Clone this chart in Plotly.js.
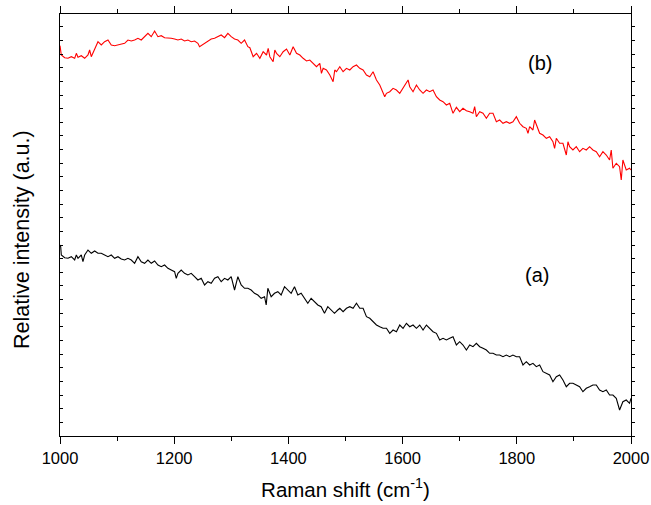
<!DOCTYPE html>
<html>
<head>
<meta charset="utf-8">
<script src="https://cdn.plot.ly/plotly-3.0.1.min.js"></script>
<style>html,body{margin:0;padding:0;background:#fff;}#chart{width:651px;height:505px;}</style>
</head>
<body>
<div id="chart"></div>
<script>
// Raman shift (cm^-1) and relative intensity (a.u.)
const shiftB = [1000,1002.3,1008.2,1014,1019.8,1025.7,1028.6,1031.5,1037.3,1043.2,1049,1051.9,1054.8,1060.7,1066.5,1072.3,1078.2,1084,1089.8,1095.7,1101.5,1107.3,1113.2,1119,1124.8,1130.7,1136.5,1142.3,1148.2,1154,1159.8,1165.7,1171.5,1177.3,1183.2,1189,1194.8,1200.7,1206.5,1212.3,1218.2,1224,1229.8,1235.7,1241.5,1244.4,1247.3,1253.2,1259,1264.8,1270.7,1276.5,1282.3,1288.2,1294,1299.8,1305.7,1311.5,1317.3,1323.2,1329,
1332.5,1338.3,1344.2,1350,1355.8,1361.7,1364.6,1367.5,1373.3,1376.2,1379.2,1385,1390.8,1396.7,1402.5,1408.3,1414.2,1420,1425.8,1431.7,1437.5,1443.3,1449.2,1455,1457.9,1460.8,1466.7,1472.5,1478.3,1481.2,1484.2,1490,1495.8,1501.7,1507.5,1513.3,1519.2,1525,1530.8,1536.7,1542.5,1548.3,1554.2,1560,1565.8,1568.7,1571.7,1577.5,1583.3,1589.2,1595,1600.8,1606.7,1609.6,1612.5,1618.3,1624.2,1630,1635.8,1641.7,1647.5,1653.3,1659.2,1665,1670.8,1676.7,1682.5,
1688.3,1694.2,1700,1705.8,1711.7,1717.5,1723.3,1726.2,1729.2,1735,1740.8,1746.7,1752.5,1758.3,1764.2,1770,1775.8,1781.7,1787.5,1793.3,1799.2,1805,1810.8,1816.7,1819.6,1822.5,1828.3,1831.2,1834.2,1840,1845.8,1851.7,1857.5,1863.3,1866.2,1869.2,1875,1880.8,1886.7,1889.6,1892.5,1898.3,1904.2,1910,1915.8,1921.7,1927.5,1933.3,1939.2,1945,1950.8,1956.7,1962.5,1965.4,1968.3,1974.2,1980,1982.9,1985.8,1991.7,1997.5,2000];
const intensityB = [390.3,381,378.3,377.7,379.3,377.7,382.7,378.7,380.3,377.7,381,386,379.3,387.7,394.3,391,394.3,396,391,390.3,391,391.7,392.7,396,395,396,397.7,396,399.3,402.7,399.3,405,399.3,400.3,398.3,398.3,397.7,397,396,397,395,396,394.3,395,392.7,389.3,390.3,392.7,394.3,397,397.7,399.3,401,398.3,402.7,399.3,397,396,392.7,396,389.3,
388.3,379.3,382.7,377.7,384.3,381,387.7,379.3,374.3,386,382.7,379.3,384.3,387,381,389.3,382.7,381,377.7,375,376,372.7,369.3,372.7,362.7,367.7,366,361,354.3,366,364.3,369.3,364.3,367.7,366,369.3,371,367.7,366,361,359.3,364.3,356,351,344.3,339.3,342.7,344.3,347.7,346,342.7,347.7,352.7,356,349.3,344.3,351,346,342.7,346,344.3,346,339.3,336,334.3,331,332.7,
322.7,328.7,324.3,327.7,325.3,324.3,322.7,329.3,319.3,324.3,322.7,317.7,322.7,322.7,314.3,316,312.7,314.3,312.7,314.3,319.3,312.7,309.3,307.7,302.7,309.3,306,316,311,302.7,301,297.7,299.3,294.3,287.7,297.7,292.7,292.7,281,294.3,289.3,286,289.3,284.3,287.7,286,289.3,286,284.3,279.3,284.3,281,276,286,267.7,272.7,269.3,256,276,266,267.7,266];

const shiftA = [1000,1001.2,1002.3,1008.2,1014,1019.8,1025.7,1028.6,1031.5,1037.3,1040.2,1043.2,1049,1054.8,1060.7,1066.5,1072.3,1078.2,1084,1089.8,1095.7,1101.5,1107.3,1113.2,1119,1124.8,1130.7,1136.5,1142.3,1148.2,1154,1159.8,1165.7,1171.5,1177.3,1183.2,1189,1194.8,1200.7,1203.6,1206.5,1212.3,1218.2,1224,1229.8,1235.7,1241.5,1247.3,1253.2,1259,1264.8,1270.7,1276.5,1282.3,1288.2,1294,1299.8,1305.7,1311.5,1317.3,1323.2,1329,1334.8,1340.7,1346.5,1352.3,1358.2,1361.1,1364,1369.8,1375.7,1381.5,1387.3,1393.2,1399,1404.8,1410.7,1416.5,1422.3,1428.2,1434,1439.8,1445.7,1451.5,1457.3,1463.2,1469,1474.8,1480.7,1486.5,
1490,1495.8,1501.7,1507.5,1513.3,1519.2,1525,1530.8,1536.7,1542.5,1548.3,1554.2,1560,1565.8,1571.7,1577.5,1583.3,1589.2,1595,1600.8,1606.7,1612.5,1618.3,1624.2,1630,1635.8,1641.7,1647.5,1653.3,1659.2,1665,1670.8,1676.7,1682.5,1688.3,1694.2,1700,1705.8,1711.7,1717.5,1723.3,1729.2,1735,1740.8,1746.7,1752.5,1758.3,1764.2,1770,1775.8,1781.7,1787.5,1793.3,1799.2,1805,1810.8,1816.7,1822.5,1828.3,1834.2,1840,1845.8,1851.7,1857.5,1863.3,1869.2,1875,1880.8,1886.7,1892.5,1898.3,1904.2,1910,1915.8,1921.7,1927.5,1933.3,1939.2,1945,1950.8,1956.7,1962.5,1968.3,1974.2,1980,1985.8,1991.7,1997.5,2000];
const intensityA = [191,189.3,181,178.3,177.7,179.3,176,181,177.7,181,174.3,181,186,182.7,185,182.7,182.7,181,179.3,181,177.7,179.3,177,176,177.7,176,172.7,179.3,174.3,172.7,176,172.7,175,171,169.3,171,167.7,166,164.3,157.7,162.7,166,162.7,161,162.7,159.3,156,157.7,151,154.3,152.7,157.7,159.3,154.3,157.7,156,159.3,146,159.3,151,147.7,147.7,146,142.7,141,137.7,139.3,131,147.7,139.3,142.7,144.3,141,149.3,146,142.7,149.3,141,142.7,137.7,132.7,137.7,134.3,131,129.3,122.7,129.3,126,122.7,126,
127.7,124.3,127.7,129.3,127.7,132.7,127.7,127.7,119.3,117.7,114.3,111,109.3,107.7,107.7,102.7,106,104.3,111,107.7,112.7,109.3,111,107.7,111,106,111,107.7,104.3,102.7,96,97.7,96,97.7,99.3,91,94.3,91,86,91,89.3,92.7,89.3,87.7,86,82.7,82.7,81,81,79.3,81,79.3,81,79.3,79.3,71,74.3,71,72.7,69.3,71,64.3,62.7,61,54.3,59.3,61,56,49.3,52.7,52.7,51,49.3,44.3,47.7,49.3,51,51,46,44.3,46,41,41,37.7,26,34.3,36,32.7,37.7];

const xTicks = [1000,1200,1400,1600,1800,2000];
const labelText = ['(b)','(a)'];
const labelShift = [1840,1835];
const labelIntensity = [373,161];
const yTitle = 'Relative intensity (a.u.)';

const font = 'Arial, "Liberation Sans", sans-serif';

const traces = [
  {x: shiftB, y: intensityB, type: 'scatter', mode: 'lines', line: {color: '#ff0000', width: 1.1}, hoverinfo: 'skip'},
  {x: shiftA, y: intensityA, type: 'scatter', mode: 'lines', line: {color: '#000000', width: 1.1}, hoverinfo: 'skip'},
  {x: [], y: [], yaxis: 'y2', type: 'scatter', mode: 'lines', showlegend: false}
];

const annotations = labelText.map((t, i) => ({
  x: labelShift[i], y: labelIntensity[i], xref: 'x', yref: 'y',
  text: t, showarrow: false, font: {family: font, size: 20, color: '#000'}
}));
annotations.push({
  text: yTitle, xref: 'paper', yref: 'paper', x: -0.0665, y: 0.4645,
  xanchor: 'center', yanchor: 'middle', textangle: -90, showarrow: false,
  font: {family: font, size: 21.5, color: '#000'}
});

const layout = {
  width: 651, height: 505,
  margin: {l: 60, r: 20, t: 14, b: 69},
  paper_bgcolor: '#fff', plot_bgcolor: '#fff',
  showlegend: false,
  font: {family: font, color: '#000', size: 16},
  xaxis: {
    range: [1000, 2000],
    tickvals: xTicks,
    ticktext: xTicks.map(String),
    ticks: 'outside', ticklen: 7, tickwidth: 1, tickcolor: '#000',
    minor: {dtick: 100, tick0: 1000, ticks: 'outside', ticklen: 4, tickcolor: '#000', showgrid: false},
    showline: true, linecolor: '#000', linewidth: 1.3, mirror: 'ticks',
    showgrid: false, zeroline: false,
    tickfont: {family: font, size: 16.5, color: '#000'},
    title: {text: 'Raman shift (cm<sup>-1</sup>)', font: {family: font, size: 20.5, color: '#000'}, standoff: 16}
  },
  yaxis: {
    range: [0, 422],
    dtick: 13.64, tick0: 0,
    ticks: 'inside', ticklen: 3, tickcolor: '#000',
    showticklabels: false,
    showline: true, linecolor: '#000', linewidth: 1.3,
    showgrid: false, zeroline: false
  },
  yaxis2: {
    overlaying: 'y', side: 'right', matches: 'y',
    range: [0, 422], dtick: 13.64, tick0: 0,
    ticks: 'outside', ticklen: 3, tickcolor: '#000',
    showticklabels: false,
    showline: true, linecolor: '#000', linewidth: 1.3,
    showgrid: false, zeroline: false
  },
  annotations: annotations
};

Plotly.newPlot('chart', traces, layout, {staticPlot: true, displayModeBar: false});
</script>
</body>
</html>
